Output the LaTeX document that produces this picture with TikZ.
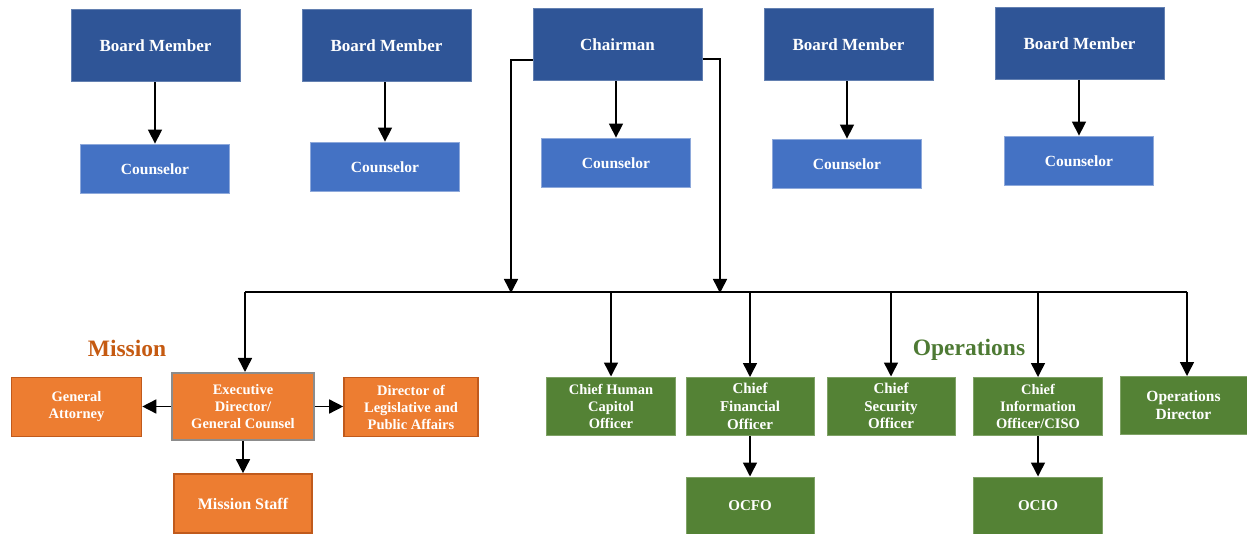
\documentclass[tikz,border=0pt]{standalone}
\usepackage{fontspec}
\setmainfont{Liberation Serif}
\usetikzlibrary{arrows.meta,positioning}
\definecolor{boardblue}{HTML}{2F5597}
\definecolor{counselblue}{HTML}{4472C4}
\definecolor{counselline}{HTML}{8EA9DB}
\definecolor{missionfill}{HTML}{ED7D31}
\definecolor{missionline}{HTML}{C05A1C}
\definecolor{missiontext}{HTML}{C55A11}
\definecolor{opsgreen}{HTML}{548235}
\definecolor{opsline}{HTML}{7FA266}
\definecolor{opstext}{HTML}{4E7A34}

\begin{document}
\begin{tikzpicture} [
        x = 1pt, y = -1pt,
        every node/.style = { inner sep = 0, align = center, font = \bfseries },
        board/.style = { fill = boardblue, draw = boardblue!75!white, line width = 1pt,
                text = white, minimum width = 169pt, minimum height = 72pt,
                font = \bfseries\fontsize{17}{19}\selectfont },
        counsel/.style = { fill = counselblue, draw = counselline, line width = 1.8pt,
                text = white, minimum width = 149pt, minimum height = 49pt,
                font = \bfseries\fontsize{15.5}{18}\selectfont },
        mission/.style = { fill = missionfill, draw = missionline, line width = 1.6pt,
                text = white, minimum width = 130pt, minimum height = 59pt,
                font = \bfseries\fontsize{14.5}{17}\selectfont },
        ops/.style = { fill = opsgreen, draw = opsline, line width = 1pt,
                text = white, minimum width = 128pt, minimum height = 58pt,
                font = \bfseries\fontsize{14.5}{17}\selectfont },
        heading/.style = { font = \bfseries\fontsize{23.5}{26}\selectfont },
        arr/.style = { line width = 1.5pt, -{Triangle[width = 14pt, length = 14pt]} }
        ]
        \useasboundingbox (0,0) rectangle (1247,534);

        % top row
        \node [board] (bm1) at (155.5,46) {Board Member};
        \node [board] (bm2) at (386.5,46) {Board Member};
        \node [board] (chair) at (617.5,45) {Chairman};
        \node [board] (bm4) at (848.5,45) {Board Member};
        \node [board] (bm5) at (1079.5,43.5) {Board Member};

        \node [counsel] (c1) at (155,169) {Counselor};
        \node [counsel] (c2) at (385,167) {Counselor};
        \node [counsel] (c3) at (616,163) {Counselor};
        \node [counsel] (c4) at (847,164) {Counselor};
        \node [counsel] (c5) at (1079,161) {Counselor};

        \draw [arr] (bm1.south -| c1.north) -- (c1.north);
        \draw [arr] (bm2.south -| c2.north) -- (c2.north);
        \draw [arr] (chair.south -| c3.north) -- (c3.north);
        \draw [arr] (bm4.south -| c4.north) -- (c4.north);
        \draw [arr] (bm5.south -| c5.north) -- (c5.north);

        % mission side
        \node [heading, text = missiontext] (mlabel) at (127,348) {Mission};
        \node [mission, draw = gray!90, line width = 2pt, minimum width = 142pt,
               minimum height = 67pt] (exec) at (243,406.5) {Executive\\Director/\\General Counsel};
        \node [mission] (ga) at (76.5,407) {General\\Attorney};
        \node [mission, minimum width = 134pt] (dlpa) at (411,407) {Director of\\Legislative and\\Public Affairs};
        \node [mission, minimum width = 138pt, font = \bfseries\fontsize{16}{19}\selectfont]
               (staff) at (243,503.5) {Mission Staff};

        % operations side
        \node [heading, text = opstext] (olabel) at (969,350) {Operations};
        \node [ops, minimum width = 129pt] (chco) at (611,406) {Chief Human\\Capitol\\Officer};
        \node [ops, font = \bfseries\fontsize{15}{18}\selectfont] (cfo) at (750,406.5) {Chief\\Financial\\Officer};
        \node [ops, font = \bfseries\fontsize{15}{17.5}\selectfont] (cso) at (891,406) {Chief\\Security\\Officer};
        \node [ops, minimum width = 129pt] (cio) at (1038,406.5) {Chief\\Information\\Officer/CISO};
        \node [ops, minimum width = 127pt, font = \bfseries\fontsize{15.5}{18}\selectfont]
               (opsdir) at (1183.5,405.5) {Operations\\Director};
        \node [ops, minimum height = 57pt, font = \bfseries\fontsize{15}{18}\selectfont]
               (ocfo) at (750,505.5) {OCFO};
        \node [ops, minimum width = 129pt, minimum height = 57pt, font = \bfseries\fontsize{15}{18}\selectfont]
               (ocio) at (1038,505.5) {OCIO};

        % chairman to the bus
        \coordinate (busL) at (511,293);
        \coordinate (busR) at (720,293);
        \coordinate (busW) at (245,292);
        \coordinate (busE) at (1187,292);
        \draw [arr] ([yshift = -15pt]chair.west) -| (busL);
        \draw [arr] ([yshift = -14pt]chair.east) -| (busR);
        \draw [line width = 1.5pt] (busW) -- (busE);

        \draw [arr] (busW) -- (busW |- exec.north);
        \draw [arr] (chco.north |- busW) -- (chco.north);
        \draw [arr] (cfo.north |- busW) -- (cfo.north);
        \draw [arr] (cso.north |- busW) -- (cso.north);
        \draw [arr] (cio.north |- busW) -- (cio.north);
        \draw [arr] (busE) -- (busE |- opsdir.north);

        \draw [arr] (exec.west) -- (exec.west -| ga.east);
        \draw [arr] (exec.east) -- (exec.east -| dlpa.west);
        \draw [arr] (exec.south) -- (staff.north);
        \draw [arr] (cfo.south) -- (ocfo.north);
        \draw [arr] (cio.south) -- (ocio.north);
    \end{tikzpicture}
\end{document}
